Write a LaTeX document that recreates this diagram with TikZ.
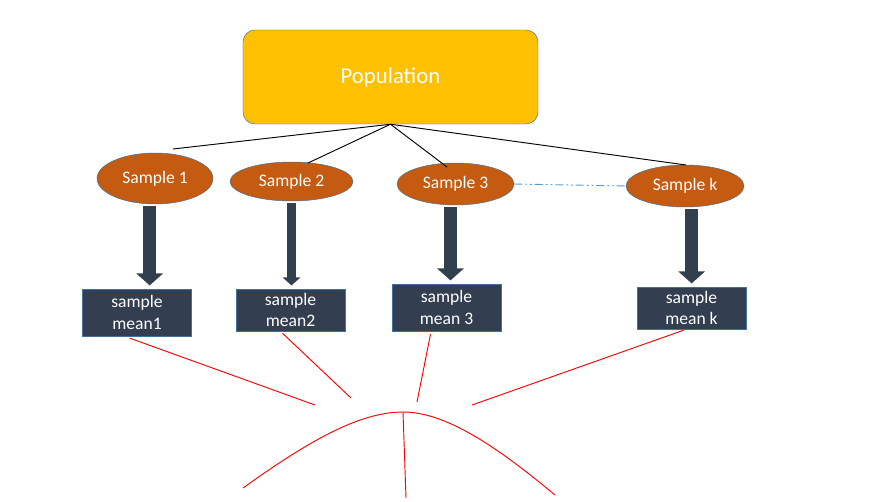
\documentclass[tikz,border=0pt]{standalone}
\usepackage{fontspec}
\setmainfont{Carlito}
\usetikzlibrary{shapes.geometric}
\usetikzlibrary{arrows.meta}
\definecolor{popfill}{HTML}{FFC000}
\definecolor{sampfill}{HTML}{C55A11}
\definecolor{meanfill}{HTML}{333F50}
\definecolor{arrowfill}{HTML}{323F4F}
\definecolor{edgeblue}{HTML}{41719C}
\definecolor{linkblue}{HTML}{5B9BD5}

\begin{document}
\begin{tikzpicture}[x=0.03cm,y=-0.03cm,
  pop/.style={draw=edgeblue,fill=popfill,rounded corners=0.36cm,text=white,minimum width=8.85cm,minimum height=2.82cm,font=\fontsize{19.4}{23}\selectfont},
  samp/.style={ellipse,draw=edgeblue,fill=sampfill,text=white,inner sep=0pt,font=\fontsize{15}{18}\selectfont},
  mean/.style={draw=edgeblue,fill=meanfill,text=white,align=center,inner sep=0pt,minimum width=3.28cm,font=\fontsize{15}{18.5}\selectfont},
  bigarrow/.style={draw=arrowfill,line width=0.39cm,shorten <=0.06cm,shorten >=0.1cm,-{Triangle[width=0pt 2,length=0pt 0.92]}},
  tree/.style={draw=black,line width=0.8pt},
  redline/.style={draw=red,line width=0.8pt}]
  \useasboundingbox (0,0) rectangle (871,501);

  \node[pop] (pop) at (390.5,77) {Population};
  \node[samp,minimum width=3.48cm,minimum height=1.53cm] (s1) at (155,178.5) {Sample 1};
  \node[samp,minimum width=3.69cm,minimum height=1.17cm] (s2) at (291.5,181.5) {Sample 2};
  \node[samp,minimum width=3.51cm,minimum height=1.26cm] (s3) at (455.5,184) {Sample 3};
  \node[samp,minimum width=3.54cm,minimum height=1.26cm] (sk) at (685,186) {Sample k};

  \node[mean,minimum height=1.41cm] (m1) at (137,312.5) {sample\\mean1};
  \node[mean,minimum height=1.26cm] (m2) at (290.5,310) {sample\\mean2};
  \node[mean,minimum height=1.41cm] (m3) at (446.5,307.5) {sample\\mean 3};
  \node[mean,minimum height=1.26cm] (mk) at (691.5,308) {sample\\mean k};

  \coordinate (t1) at (173,149);
  \coordinate (t2) at (308,163);
  \coordinate (t3) at (447,167);
  \coordinate (tk) at (686,165);
  \draw[tree] (pop.south) -- (t1);
  \draw[tree] (pop.south) -- (t2);
  \draw[tree] (pop.south) -- (t3);
  \draw[tree] (pop.south) -- (tk);
  \draw[linkblue,line width=0.8pt,dash pattern=on 7pt off 2.5pt on 1.5pt off 2.5pt on 1.5pt off 2.5pt] (s3.east) -- (sk.west);

  \draw[bigarrow] ([xshift=-0.16cm]s1.south) -- ([xshift=-0.16cm]s1.south |- m1.north);
  \draw[bigarrow,line width=0.26cm] (s2.south) -- (s2.south |- m2.north);
  \draw[bigarrow] ([xshift=-0.15cm]s3.south) -- ([xshift=-0.15cm]s3.south |- m3.north);
  \draw[bigarrow] ([xshift=0.2cm]sk.south) -- ([xshift=0.2cm]sk.south |- mk.north);

  \coordinate (c1) at (315,405);
  \coordinate (c2) at (351,398);
  \coordinate (c3) at (417,402);
  \coordinate (ck) at (472,405);
  \draw[redline] ([xshift=-0.21cm,yshift=-0.06cm]m1.south) -- (c1);
  \draw[redline] ([xshift=-0.24cm,yshift=-0.06cm]m2.south) -- (c2);
  \draw[redline] ([xshift=-0.48cm,yshift=-0.09cm]m3.south) -- (c3);
  \draw[redline] ([xshift=-0.24cm,yshift=-0.03cm]mk.south) -- (ck);

  \coordinate (bl) at (243,488);
  \coordinate (peak) at (403,412);
  \coordinate (br) at (555,495);
  \coordinate (pb) at (406,498);
  \draw[redline] (bl) .. controls (310,440) and (360,412) .. (peak) .. controls (445,412) and (495,445) .. (br);
  \draw[redline] (peak) -- (pb);
\end{tikzpicture}
\end{document}
